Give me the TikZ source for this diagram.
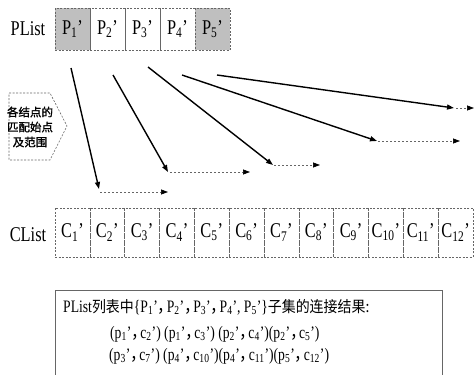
\documentclass[tikz,border=0pt]{standalone}
\usepackage{fontspec}
\setmainfont[FakeStretch=0.78]{Liberation Serif}
\newfontfamily\cjk[FakeStretch=0.9]{Noto Sans CJK SC}
\newfontfamily\cjkb[FakeBold=1.5]{Noto Sans CJK SC}
\usetikzlibrary{arrows.meta}
\newcommand{\sub}[2]{#1\textsubscript{#2}'}
\newcommand{\cm}{\makebox[9pt][l]{\cjk ，}}
\begin{document}
\begin{tikzpicture}[x=1pt,y=-1pt,
  lbl/.style={font=\fontsize{21}{21}\selectfont, inner sep=0pt},
  pbox/.style={draw=black!60, dashed, dash pattern=on 2pt off 1.5pt, minimum width=35pt, minimum height=42pt, inner sep=0pt, font=\fontsize{21}{21}\selectfont},
  cbox/.style={draw=black!60, dashed, dash pattern=on 2pt off 1.5pt, minimum width=34.83pt, minimum height=49pt, inner sep=0pt, font=\fontsize{21}{21}\selectfont},
  hl/.style={fill=black!25},
  sarrow/.style={black, line width=1.4pt, -{Triangle[length=7pt,width=5pt]}},
  darrow/.style={black!60, line width=0.7pt, dash pattern=on 2pt off 2pt, -{Triangle[length=7pt,width=5pt,fill=black,color=black]}},
  body/.style={font=\fontsize{17.5}{17.5}\selectfont, inner sep=0pt, anchor=west}
]
\useasboundingbox (0,0) rectangle (475,375);

% PList
\node[lbl] (plist) at (28,29) {PList};
\node[pbox,hl] (p1) at (72.5,29) {\sub{P}{1}};
\node[pbox] (p2) at (107.5,29) {\sub{P}{2}};
\node[pbox] (p3) at (142.5,29) {\sub{P}{3}};
\node[pbox] (p4) at (177.5,29) {\sub{P}{4}};
\node[pbox,hl] (p5) at (212.5,29) {\sub{P}{5}};

% CList
\node[lbl] (clist) at (28,235) {CList};
\foreach \i in {1,...,12}{
  \node[cbox] (c\i) at ({55+34.83*(\i-0.5)},232.5) {\sub{C}{\i}};
}

% side label
\draw[black!60, dashed, dash pattern=on 2pt off 1.5pt, line width=0.6pt] (9,93) -- (50,93) -- (67,126) -- (50,160) -- (9,160) -- cycle;
\node[align=center, inner sep=0pt, font=\cjkb\fontsize{11.5}{15}\selectfont] (side) at (30,127) {各结点的\\匹配始点\\及范围};

% arrows
\coordinate (a1) at (71,68);   \coordinate (b1) at (99,189);
\coordinate (d1) at (100,192); \coordinate (e1) at (168,192);
\coordinate (a2) at (113,75);  \coordinate (b2) at (168,172);
\coordinate (d2) at (170,172); \coordinate (e2) at (250,172);
\coordinate (a3) at (148,67);  \coordinate (b3) at (273,165);
\coordinate (d3) at (274,165); \coordinate (e3) at (320,165);
\coordinate (a4) at (182,75);  \coordinate (b4) at (377,141);
\coordinate (d4) at (378,141); \coordinate (e4) at (460,141);
\coordinate (a5) at (217,75);  \coordinate (b5) at (454,108);
\coordinate (d5) at (456,108); \coordinate (e5) at (474,108);
\foreach \k in {1,...,5}{
  \draw[darrow] (d\k) -- (e\k);
  \draw[sarrow] (a\k) -- (b\k);
}

% result box
\coordinate (r1) at (55,380); \coordinate (r2) at (55,290);
\coordinate (r3) at (442,290); \coordinate (r4) at (442,380);
\draw[black!60, line width=0.6pt] (r1) -- (r2) -- (r3) -- (r4);
\node[body] (t1) at (63,307) {PList{\cjk\fontsize{15.5}{15.5}\selectfont 列表中}\{\sub{P}{1}\cm\sub{P}{2}\cm\sub{P}{3}\cm\sub{P}{4}, \sub{P}{5}\}{\cjk\fontsize{15.5}{15.5}\selectfont 子集的连接结果:}};
\node[body] (t2) at (110,334) {(\sub{p}{1}\cm\sub{c}{2}) (\sub{p}{1}\cm\sub{c}{3}) (\sub{p}{2}\cm\sub{c}{4})(\sub{p}{2}\cm\sub{c}{5})};
\node[body] (t3) at (109,356) {(\sub{p}{3}\cm\sub{c}{7}) (\sub{p}{4}\cm\sub{c}{10})(\sub{p}{4}\cm\sub{c}{11})(\sub{p}{5}\cm\sub{c}{12})};
\end{tikzpicture}
\end{document}
